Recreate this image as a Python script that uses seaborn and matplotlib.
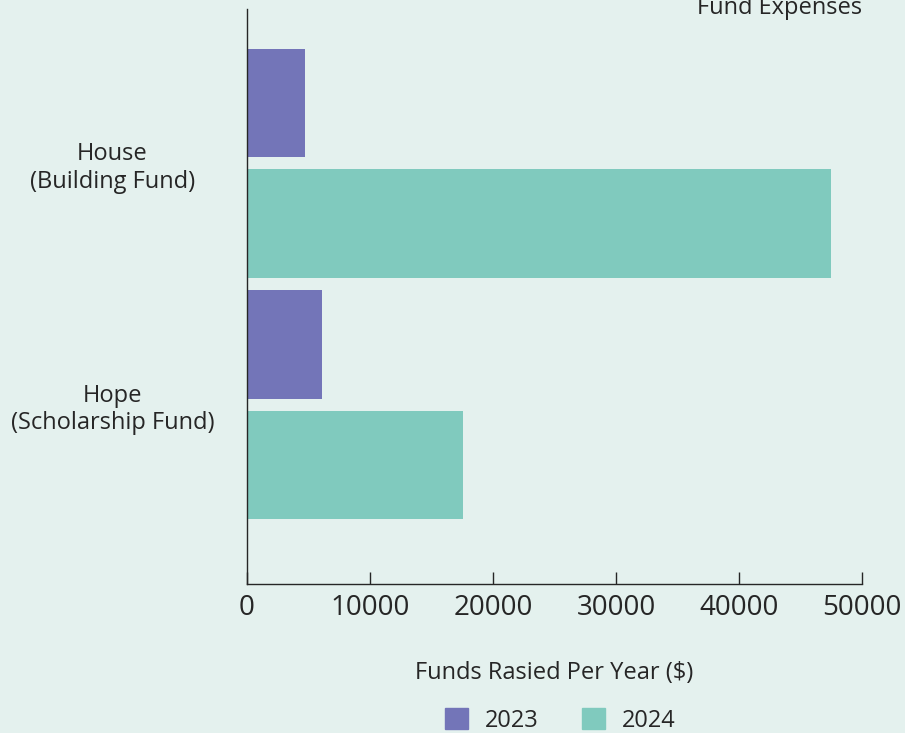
import matplotlib
matplotlib.use("Agg")
import matplotlib.pyplot as plt
import pandas as pd
import seaborn as sns

funds = ["House\n(Building Fund)", "Hope\n(Scholarship Fund)"]
years = ["2023", "2024"]
raised_2023 = [4700, 6100]
raised_2024 = [47500, 17600]

df = pd.DataFrame({
    "fund": funds * 2,
    "year": [years[0]] * 2 + [years[1]] * 2,
    "raised": raised_2023 + raised_2024,
})

bg = "#e4f1ee"
ink = "#262626"
palette = {"2023": "#7375b8", "2024": "#80cabe"}

sns.set_style("white")
plt.rcParams["font.family"] = ["Open Sans", "DejaVu Sans"]
plt.rcParams["text.color"] = ink
plt.rcParams["axes.labelcolor"] = ink
plt.rcParams["xtick.color"] = ink
plt.rcParams["ytick.color"] = ink

fig = plt.figure(figsize=(9.05, 7.33), dpi=100, facecolor=bg)
ax = fig.add_axes([0.2729, 0.2033, 0.6796, 0.7845])
ax.set_facecolor(bg)

sns.barplot(data=df, y="fund", x="raised", hue="year", hue_order=years,
            palette=palette, orient="h", width=1.0, gap=0.1,
            saturation=1, linewidth=0, ax=ax)

ax.set_xlim(0, 50000)
ax.set_ylim(1.743, -0.639)
ax.set_xticks([0, 10000, 20000, 30000, 40000, 50000])
ax.set_xticklabels(["0", "10000", "20000", "30000", "40000", "50000"])
ax.tick_params(axis="x", direction="in", length=8.5, width=1, pad=7,
               labelsize=20, bottom=True)
ax.tick_params(axis="y", length=0, pad=97, labelsize=17)
for lab in ax.get_yticklabels():
    lab.set_horizontalalignment("center")
    lab.set_multialignment("center")

for side in ["top", "right"]:
    ax.spines[side].set_visible(False)
for side in ["left", "bottom"]:
    ax.spines[side].set_color(ink)
    ax.spines[side].set_linewidth(1)

ax.set_ylabel("")
ax.set_xlabel("Funds Rasied Per Year ($)", fontsize=17, labelpad=28)

ax.get_legend().remove()
handles = [plt.Rectangle((0, 0), 1, 1, color=palette[y]) for y in years]
fig.legend(handles, years, loc="center", bbox_to_anchor=(0.619, 0.017),
           ncol=2, frameon=False, fontsize=17, handlelength=0.97,
           handleheight=0.97, handletextpad=0.72, columnspacing=1.82)

fig.text(780 / 905, 1 - 8 / 733, "Fund Expenses", ha="center", va="center",
         fontsize=17)

fig.savefig("out.png", dpi=100, facecolor=bg)
